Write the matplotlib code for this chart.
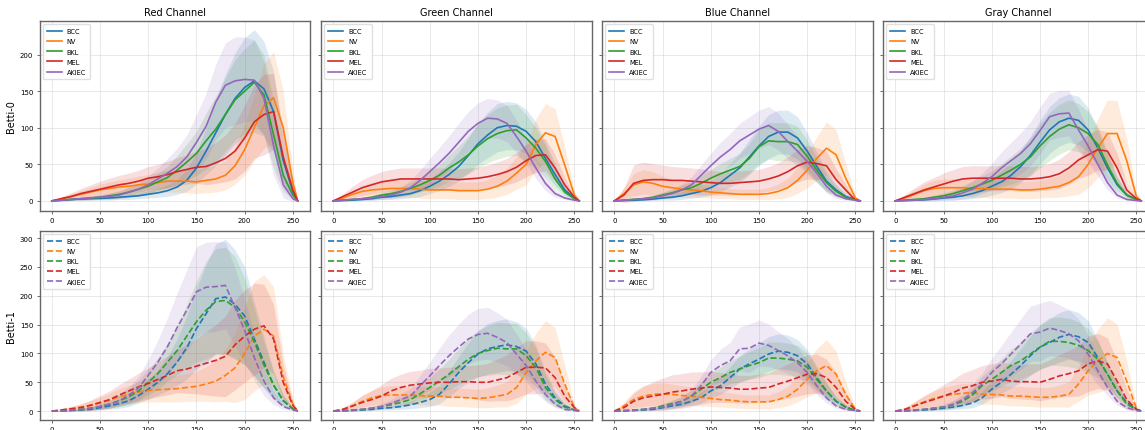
import numpy as np
import matplotlib
matplotlib.use("Agg")
import matplotlib.pyplot as plt

# pixel intensity grid (0..255)
x = [0, 10, 20, 30, 40, 50, 60, 70, 80, 90, 100, 110, 120, 130, 140,
     150, 160, 170, 180, 190, 200, 210, 220, 230, 240, 250, 255]

classes = ["BCC", "NV", "BKL", "MEL", "AKIEC"]
colors = ["#1f77b4", "#ff7f0e", "#2ca02c", "#d62728", "#9467bd"]
channels = ["Red Channel", "Green Channel", "Blue Channel", "Gray Channel"]

# ---- Betti-0 means / std ----
red_b0 = {
    "BCC":   [0, 1, 2, 2.5, 3, 3.5, 4, 5, 6, 7, 9, 11, 14, 19, 28, 45, 68, 93, 118, 140, 155, 164, 153, 122, 55, 12, 0],
    "NV":    [0, 3, 6, 9, 12, 15, 17, 19, 20, 22, 23, 25, 27, 27, 27, 26, 28, 30, 35, 48, 70, 100, 130, 141, 100, 25, 0],
    "BKL":   [0, 1, 2, 3, 4, 5, 7, 9, 12, 16, 20, 26, 32, 42, 53, 65, 82, 98, 118, 138, 150, 162, 145, 90, 35, 8, 0],
    "MEL":   [0, 3, 6, 10, 13, 16, 19, 22, 24, 27, 31, 33, 36, 40, 43, 46, 47, 52, 58, 68, 86, 108, 118, 122, 60, 15, 0],
    "AKIEC": [0, 1, 2, 3, 4, 5, 6, 8, 12, 16, 22, 30, 38, 47, 60, 80, 102, 135, 158, 164, 166, 165, 140, 75, 22, 3, 0],
}
red_b0_sd = {
    "BCC":   [0, 1, 1.5, 2, 2, 2.5, 3, 3, 4, 4, 5, 6, 8, 10, 15, 22, 32, 45, 55, 62, 68, 70, 65, 55, 30, 8, 0],
    "NV":    [0, 2, 4, 5, 7, 8, 9, 10, 11, 12, 13, 14, 15, 15, 16, 16, 17, 18, 20, 25, 35, 45, 58, 63, 50, 15, 0],
    "BKL":   [0, 1, 1.5, 2, 2.5, 3, 4, 5, 6, 8, 10, 12, 15, 20, 25, 30, 38, 45, 50, 55, 58, 58, 55, 45, 22, 6, 0],
    "MEL":   [0, 3, 5, 7, 9, 11, 12, 13, 14, 15, 16, 17, 18, 19, 20, 22, 25, 28, 32, 38, 45, 50, 55, 52, 35, 10, 0],
    "AKIEC": [0, 1, 1.5, 2, 2.5, 3, 4, 5, 7, 9, 12, 15, 20, 25, 30, 38, 45, 52, 58, 60, 58, 55, 50, 40, 18, 4, 0],
}
green_b0 = {
    "BCC":   [0, 0.5, 1, 2, 3, 5, 6, 8, 10, 14, 20, 27, 36, 47, 62, 78, 90, 100, 103, 102, 95, 81, 58, 36, 15, 4, 0],
    "NV":    [0, 4, 9, 13, 15, 16, 17, 17, 17, 16, 15, 15, 15, 14, 14, 14, 16, 20, 27, 38, 50, 77, 93, 88, 49, 8, 0],
    "BKL":   [0, 1, 2, 3, 5, 8, 10, 13, 17, 22, 28, 35, 45, 53, 63, 75, 85, 92, 96, 97, 86, 72, 54, 30, 12, 3, 0],
    "MEL":   [0, 6, 12, 18, 22, 26, 28, 30, 30, 30, 30, 30, 30, 29, 30, 31, 33, 36, 40, 46, 55, 62, 63, 45, 22, 5, 0],
    "AKIEC": [0, 1, 2, 3, 4, 6, 8, 12, 18, 28, 40, 52, 65, 80, 95, 106, 113, 112, 106, 88, 68, 45, 24, 10, 4, 1, 0],
}
green_b0_sd = {
    "BCC":   [0, 0.5, 1, 1.5, 2, 3, 4, 5, 6, 8, 10, 13, 16, 20, 24, 28, 31, 33, 33, 32, 30, 27, 22, 15, 7, 2, 0],
    "NV":    [0, 3, 6, 8, 10, 11, 12, 12, 12, 12, 12, 12, 12, 12, 12, 12, 13, 15, 18, 22, 28, 35, 40, 38, 25, 5, 0],
    "BKL":   [0, 1, 1.5, 2, 3, 4, 5, 6, 8, 10, 12, 15, 18, 22, 26, 30, 33, 35, 35, 35, 32, 28, 22, 14, 6, 2, 0],
    "MEL":   [0, 4, 8, 11, 13, 14, 15, 15, 15, 15, 15, 15, 15, 15, 15, 15, 16, 17, 18, 20, 22, 23, 22, 18, 10, 3, 0],
    "AKIEC": [0, 0.5, 1, 2, 3, 4, 5, 7, 10, 14, 18, 21, 24, 26, 27, 28, 27, 26, 25, 22, 18, 14, 10, 5, 2, 1, 0],
}
blue_b0 = {
    "BCC":   [0, 0.5, 1, 1.5, 2.5, 4, 5, 7, 10, 13, 18, 25, 35, 45, 60, 75, 88, 94, 94, 86, 68, 47, 27, 15, 6, 2, 0],
    "NV":    [0, 10, 22, 26, 24, 20, 18, 16, 15, 14, 12, 11, 10, 9, 9, 9, 10, 13, 18, 28, 42, 58, 72, 63, 31, 4, 0],
    "BKL":   [0, 1, 2, 3, 5, 8, 11, 15, 18, 24, 31, 37, 42, 47, 58, 74, 82, 81, 81, 77, 61, 42, 25, 13, 5, 1, 0],
    "MEL":   [0, 8, 24, 28, 29, 29, 28, 28, 27, 26, 25, 24, 24, 25, 26, 27, 30, 34, 40, 48, 53, 51, 48, 29, 15, 1, 0],
    "AKIEC": [0, 1, 2, 3, 4, 7, 10, 15, 22, 35, 48, 60, 70, 82, 90, 98, 103, 95, 81, 68, 54, 38, 20, 8, 3, 1, 0],
}
blue_b0_sd = {
    "BCC":   [0, 0.5, 1, 1.5, 2, 3, 4, 5, 6, 8, 10, 13, 16, 20, 24, 27, 30, 30, 30, 29, 25, 20, 14, 8, 4, 1, 0],
    "NV":    [0, 8, 15, 17, 16, 14, 12, 11, 10, 9, 8, 8, 7, 7, 7, 7, 8, 10, 13, 18, 24, 30, 36, 34, 20, 3, 0],
    "BKL":   [0, 1, 1.5, 2, 3, 4, 5, 7, 8, 10, 12, 14, 16, 18, 20, 23, 25, 26, 26, 25, 22, 17, 12, 7, 3, 1, 0],
    "MEL":   [0, 10, 25, 25, 22, 20, 19, 18, 18, 18, 17, 16, 16, 16, 16, 16, 17, 18, 20, 22, 23, 22, 20, 15, 8, 1, 0],
    "AKIEC": [0, 0.5, 1, 2, 3, 4, 6, 8, 11, 14, 17, 20, 22, 24, 25, 26, 26, 25, 23, 20, 17, 13, 9, 5, 2, 0.5, 0],
}
gray_b0 = {
    "BCC":   [0, 0.5, 1, 1.5, 2.5, 4, 5, 7, 10, 14, 20, 26, 35, 47, 62, 80, 97, 108, 113, 110, 97, 72, 45, 22, 8, 2, 0],
    "NV":    [0, 4, 9, 14, 17, 18, 18, 18, 17, 17, 16, 16, 16, 15, 15, 16, 18, 20, 25, 33, 50, 72, 92, 92, 55, 6, 0],
    "BKL":   [0, 1, 2, 3, 5, 7, 10, 14, 18, 23, 28, 35, 42, 50, 60, 75, 88, 98, 104, 100, 92, 77, 49, 24, 8, 2, 0],
    "MEL":   [0, 5, 10, 15, 19, 23, 27, 30, 31, 31, 31, 31, 31, 30, 30, 31, 33, 37, 45, 56, 63, 70, 68, 45, 15, 3, 0],
    "AKIEC": [0, 0.5, 1, 2, 3, 5, 7, 11, 16, 24, 33, 45, 55, 65, 78, 96, 115, 119, 120, 97, 75, 50, 25, 8, 2, 0.5, 0],
}
gray_b0_sd = {
    "BCC":   [0, 0.5, 1, 1.5, 2, 3, 4, 5, 7, 9, 12, 15, 18, 22, 26, 30, 32, 33, 33, 33, 30, 25, 18, 10, 4, 1, 0],
    "NV":    [0, 3, 6, 9, 11, 12, 12, 12, 12, 12, 12, 12, 12, 12, 12, 12, 13, 15, 18, 24, 32, 40, 46, 45, 30, 4, 0],
    "BKL":   [0, 1, 1.5, 2, 3, 4, 5, 7, 9, 11, 13, 16, 19, 22, 26, 30, 33, 34, 34, 33, 30, 25, 18, 10, 4, 1, 0],
    "MEL":   [0, 4, 8, 11, 13, 15, 16, 17, 17, 17, 17, 17, 17, 17, 17, 17, 18, 20, 22, 25, 28, 28, 26, 20, 10, 2, 0],
    "AKIEC": [0, 0.5, 1, 2, 3, 4, 6, 8, 11, 14, 18, 22, 25, 28, 30, 32, 32, 32, 31, 28, 22, 16, 10, 4, 1, 0.5, 0],
}

# ---- Betti-1 means / std ----
red_b1 = {
    "BCC":   [0, 0.5, 1, 2, 3, 6, 9, 13, 18, 27, 38, 50, 65, 85, 110, 143, 169, 195, 198, 185, 165, 125, 85, 45, 18, 4, 0],
    "NV":    [0, 2, 4, 7, 10, 14, 19, 25, 29, 33, 36, 37, 38, 39, 41, 43, 47, 52, 62, 75, 100, 130, 142, 130, 60, 12, 0],
    "BKL":   [0, 0.5, 1.5, 3, 5, 8, 12, 18, 25, 35, 50, 65, 85, 105, 130, 155, 175, 190, 192, 180, 155, 120, 80, 45, 18, 4, 0],
    "MEL":   [0, 2, 4, 6, 10, 15, 20, 28, 35, 42, 48, 55, 62, 70, 73, 78, 83, 88, 95, 115, 130, 142, 148, 125, 50, 10, 0],
    "AKIEC": [0, 0.5, 1.5, 3, 5, 8, 12, 18, 28, 40, 62, 85, 112, 145, 175, 207, 215, 216, 218, 180, 140, 93, 52, 23, 8, 2, 0],
}
red_b1_sd = {
    "BCC":   [0, 0.5, 1, 2, 3, 4, 6, 8, 10, 13, 17, 22, 30, 40, 55, 70, 85, 95, 100, 95, 85, 65, 45, 25, 10, 3, 0],
    "NV":    [0, 2, 4, 6, 8, 10, 12, 14, 16, 18, 20, 21, 22, 23, 24, 26, 30, 36, 45, 60, 80, 95, 95, 85, 40, 8, 0],
    "BKL":   [0, 0.5, 1, 2, 3, 5, 7, 10, 14, 18, 22, 27, 33, 42, 55, 70, 85, 92, 92, 88, 75, 58, 40, 22, 9, 2, 0],
    "MEL":   [0, 2, 4, 6, 9, 12, 15, 18, 21, 24, 27, 30, 34, 38, 42, 48, 55, 62, 70, 78, 80, 80, 72, 60, 30, 6, 0],
    "AKIEC": [0, 0.5, 1, 2, 3, 5, 7, 10, 14, 20, 28, 38, 50, 60, 70, 78, 78, 78, 75, 68, 55, 40, 25, 12, 5, 1, 0],
}
green_b1 = {
    "BCC":   [0, 0.5, 1, 2, 3, 5, 6, 8, 11, 15, 20, 29, 47, 67, 84, 99, 108, 112, 115, 112, 104, 82, 47, 23, 9, 2, 0],
    "NV":    [0, 3, 9, 17, 23, 27, 28, 28, 28, 27, 26, 26, 24, 24, 23, 22, 23, 26, 29, 41, 67, 87, 102, 93, 47, 6, 0],
    "BKL":   [0, 1, 2, 3, 5, 8, 11, 15, 20, 30, 41, 52, 64, 77, 90, 100, 105, 109, 108, 108, 96, 76, 41, 20, 7, 2, 0],
    "MEL":   [0, 3, 9, 15, 20, 26, 35, 41, 45, 47, 49, 50, 50, 51, 51, 50, 50, 54, 58, 67, 76, 76, 75, 58, 26, 6, 0],
    "AKIEC": [0, 0.5, 1.5, 3, 5, 8, 13, 20, 26, 44, 61, 79, 96, 111, 125, 133, 135, 128, 119, 99, 79, 52, 29, 12, 3, 1, 0],
}
green_b1_sd = {
    "BCC":   [0, 0.5, 1, 1.5, 2, 3, 4, 5, 7, 9, 12, 16, 22, 28, 34, 40, 44, 45, 45, 43, 40, 33, 22, 12, 5, 1, 0],
    "NV":    [0, 3, 6, 10, 13, 15, 16, 16, 16, 16, 16, 16, 16, 16, 16, 16, 17, 19, 22, 28, 38, 48, 55, 52, 32, 5, 0],
    "BKL":   [0, 1, 1.5, 2, 3, 4, 6, 8, 10, 13, 17, 21, 26, 31, 36, 40, 43, 45, 45, 44, 40, 33, 22, 12, 5, 1, 0],
    "MEL":   [0, 3, 7, 12, 16, 20, 22, 23, 24, 24, 25, 25, 26, 27, 28, 30, 33, 36, 40, 44, 46, 46, 43, 35, 18, 4, 0],
    "AKIEC": [0, 0.5, 1, 2, 3, 5, 7, 10, 13, 18, 24, 30, 36, 40, 43, 45, 45, 43, 40, 35, 28, 20, 12, 6, 2, 0.5, 0],
}
blue_b1 = {
    "BCC":   [0, 0.5, 1, 2, 3, 6, 9, 12, 17, 23, 35, 44, 58, 73, 82, 90, 99, 104, 102, 96, 82, 58, 35, 17, 7, 1, 0],
    "NV":    [0, 9, 20, 26, 29, 30, 29, 27, 26, 24, 22, 20, 19, 17, 16, 16, 16, 20, 26, 38, 55, 70, 79, 64, 29, 3, 0],
    "BKL":   [0, 1, 2, 3, 5, 9, 13, 17, 26, 38, 50, 58, 67, 73, 79, 84, 92, 92, 90, 87, 76, 55, 35, 17, 7, 1, 0],
    "MEL":   [0, 6, 17, 23, 26, 29, 33, 35, 38, 40, 42, 41, 40, 38, 38, 40, 41, 47, 52, 58, 64, 65, 58, 41, 17, 3, 0],
    "AKIEC": [0, 0.5, 1.5, 3, 5, 7, 11, 17, 26, 44, 67, 79, 87, 108, 109, 118, 114, 105, 96, 84, 67, 44, 23, 9, 3, 1, 0],
}
blue_b1_sd = {
    "BCC":   [0, 0.5, 1, 1.5, 2, 3, 4, 5, 7, 9, 12, 15, 19, 23, 26, 28, 30, 30, 30, 28, 25, 20, 14, 8, 4, 1, 0],
    "NV":    [0, 7, 14, 18, 19, 19, 18, 17, 16, 15, 14, 13, 13, 12, 12, 12, 12, 14, 17, 22, 30, 38, 45, 40, 22, 3, 0],
    "BKL":   [0, 1, 1.5, 2, 3, 4, 6, 8, 10, 13, 16, 18, 20, 22, 24, 26, 28, 28, 28, 27, 25, 20, 14, 8, 4, 1, 0],
    "MEL":   [0, 6, 14, 20, 25, 28, 30, 30, 30, 28, 27, 26, 25, 24, 24, 24, 25, 27, 30, 32, 34, 34, 32, 26, 14, 3, 0],
    "AKIEC": [0, 0.5, 1, 2, 3, 5, 7, 9, 12, 16, 22, 28, 32, 38, 42, 40, 37, 33, 30, 26, 21, 15, 9, 4, 2, 0.5, 0],
}
gray_b1 = {
    "BCC":   [0, 0.5, 1, 2, 3, 5, 7, 10, 14, 23, 38, 50, 64, 79, 96, 111, 119, 128, 133, 129, 119, 93, 64, 35, 15, 3, 0],
    "NV":    [0, 3, 10, 16, 22, 26, 29, 31, 32, 29, 29, 28, 26, 26, 25, 24, 24, 26, 29, 47, 70, 87, 100, 93, 52, 5, 0],
    "BKL":   [0, 1, 2, 3, 5, 7, 11, 17, 28, 44, 55, 67, 79, 87, 99, 111, 121, 121, 119, 114, 105, 90, 64, 35, 12, 3, 0],
    "MEL":   [0, 3, 9, 15, 20, 26, 32, 40, 44, 50, 52, 55, 52, 51, 51, 50, 55, 61, 65, 70, 82, 87, 82, 52, 20, 3, 0],
    "AKIEC": [0, 0.5, 1.5, 3, 5, 7, 12, 20, 32, 47, 67, 82, 99, 116, 134, 137, 144, 140, 134, 122, 99, 70, 41, 17, 6, 1, 0],
}
gray_b1_sd = {
    "BCC":   [0, 0.5, 1, 1.5, 2, 3, 4, 6, 8, 11, 15, 19, 24, 29, 34, 38, 41, 43, 43, 42, 38, 30, 20, 11, 5, 1, 0],
    "NV":    [0, 3, 7, 10, 13, 15, 16, 17, 17, 17, 17, 17, 17, 17, 17, 17, 17, 19, 22, 30, 42, 55, 62, 58, 35, 4, 0],
    "BKL":   [0, 1, 1.5, 2, 3, 4, 6, 9, 12, 16, 20, 24, 28, 32, 36, 39, 41, 42, 42, 41, 38, 32, 22, 12, 5, 1, 0],
    "MEL":   [0, 3, 7, 12, 16, 20, 23, 26, 28, 29, 30, 30, 30, 30, 31, 32, 34, 37, 40, 44, 48, 48, 45, 35, 18, 3, 0],
    "AKIEC": [0, 0.5, 1, 2, 3, 5, 7, 10, 14, 19, 25, 32, 38, 44, 48, 50, 48, 45, 42, 38, 32, 24, 14, 7, 2, 0.5, 0],
}

rows = [
    ([red_b0, green_b0, blue_b0, gray_b0], [red_b0_sd, green_b0_sd, blue_b0_sd, gray_b0_sd], "-", "Betti-0"),
    ([red_b1, green_b1, blue_b1, gray_b1], [red_b1_sd, green_b1_sd, blue_b1_sd, gray_b1_sd], "--", "Betti-1"),
]

W, H = 1145, 431
fig = plt.figure(figsize=(W / 100, H / 100), dpi=100)

lefts = [39.5, 321, 602, 883]
width = 270.5
row_box = [(212, 190), (420.7, 189)]  # (bottom px, height px)

xs = np.array(x)
for r, (means, sds, ls, ylab) in enumerate(rows):
    bottom_px, height_px = row_box[r]
    first = None
    for c in range(4):
        ax = fig.add_axes([lefts[c] / W, 1 - bottom_px / H, width / W, height_px / H], sharey=first)
        if first is None:
            first = ax
        for name, col in zip(classes, colors):
            m = np.array(means[c][name], dtype=float)
            s = np.array(sds[c][name], dtype=float)
            ax.fill_between(xs, m - s, m + s, color=col, alpha=0.15, linewidth=0)
            ax.plot(xs, m, ls, color=col, lw=1.2, label=name)
        ax.grid(True, color="#cccccc", alpha=0.5, lw=0.6)
        ax.set_axisbelow(True)
        ax.tick_params(labelsize=5, length=2.5, width=0.6, color="#555555", pad=2)
        for sp in ax.spines.values():
            sp.set_color("#666666")
            sp.set_linewidth(1.0)
        ax.legend(loc="upper left", fontsize=4.8, handlelength=2.2, borderpad=0.6,
                  labelspacing=0.62, framealpha=0.9, edgecolor="#dddddd")
        if r == 0:
            ax.set_title(channels[c], fontsize=7, pad=4)
        if c == 0:
            ax.set_ylabel(ylab, fontsize=7, labelpad=3)
        else:
            plt.setp(ax.get_yticklabels(), visible=False)

fig.savefig("out.png", dpi=100)
